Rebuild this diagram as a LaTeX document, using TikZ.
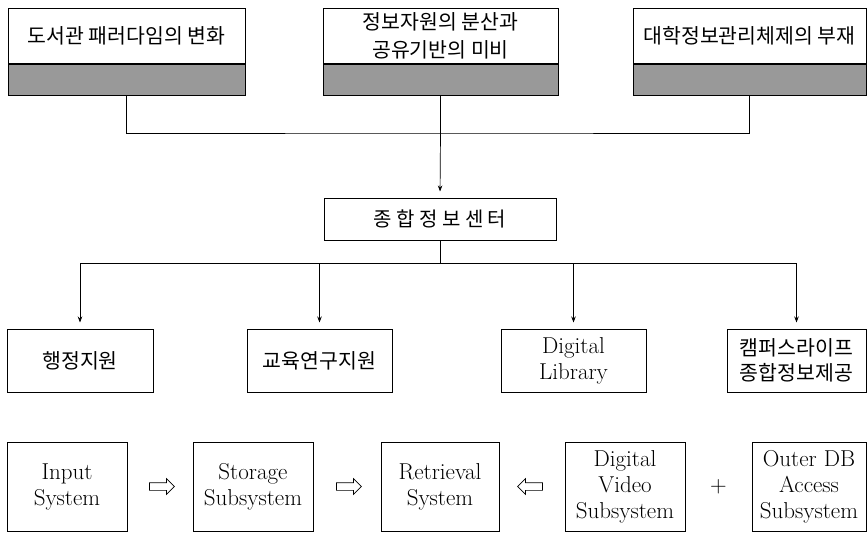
\documentclass[tikz,border=0pt]{standalone}
\usepackage{fontspec}
\newfontfamily\kr{Noto Sans CJK KR}
\usetikzlibrary{shapes.arrows,arrows.meta,calc}

\begin{document}
\begin{tikzpicture}[x=1pt,y=-1pt,
  box/.style={draw,line width=1pt,inner sep=1pt,align=center},
  band/.style={draw,line width=1pt,fill=black!40,minimum height=31pt,anchor=north},
  conn/.style={line width=1pt},
  dn/.style={-{Stealth[length=6pt,width=4.5pt]},line width=0.7pt,shorten >=6pt},
  harrow/.style={single arrow,draw,line width=0.7pt,minimum height=25pt,single arrow head extend=4pt,inner sep=3.5pt},
  kor/.style={font=\kr\fontsize{20.5}{28}\selectfont},
  eng/.style={font=\fontsize{23}{26}\selectfont}]
\useasboundingbox (0,0) rectangle (868,533);
% top row
\node[box,kor,minimum width=237pt,minimum height=55pt] (t1) at (126.5,35.5) {도서관 패러다임의 변화};
\node[box,kor,minimum width=235pt,minimum height=55pt] (t2) at (440.5,35.5) {정보자원의 분산과\\공유기반의 미비};
\node[box,kor,minimum width=233pt,minimum height=55pt] (t3) at (749.5,35.5) {대학정보관리체제의 부재};
\node[band,minimum width=237pt] (b1) at (t1.south) {};
\node[band,minimum width=235pt] (b2) at (t2.south) {};
\node[band,minimum width=233pt] (b3) at (t3.south) {};
% center
\node[box,font=\kr\fontsize{20}{22}\selectfont,minimum width=232pt,minimum height=42pt] (c) at (440,219) {종 합 정 보 센 터};
\coordinate (j) at (b2.south |- 0,133);
\draw[conn] (b1.south) |- (j) -| (b3.south);
\draw[conn] (b2.south) -- (j);
\draw[dn] (j) -- (c.north);
% second row
\node[box,kor,minimum width=146pt,minimum height=63pt] (r1) at (80,360.5) {행정지원};
\node[box,kor,minimum width=145pt,minimum height=63pt] (r2) at (319.5,360.5) {교육연구지원};
\node[box,eng,minimum width=145pt,minimum height=63pt] (r3) at (573.5,360.5) {Digital\\Library};
\node[box,font=\kr\fontsize{20.5}{25}\selectfont,minimum width=139pt,minimum height=63pt] (r4) at (796.5,360.5) {캠퍼스라이프\\종합정보제공};
\coordinate (k) at (c.south |- 0,263);
\draw[conn] (c.south) -- (k);
\draw[conn] (r1.north |- k) -- (r4.north |- k);
\foreach \n in {r1,r2,r3,r4}
  \draw[dn] (\n.north |- k) -- (\n.north);
% bottom row
\node[box,eng,minimum width=120pt,minimum height=89pt] (s1) at (67,486.5) {Input\\System};
\node[box,eng,minimum width=120pt,minimum height=89pt] (s2) at (253,486.5) {Storage\\Subsystem};
\node[box,eng,minimum width=118pt,minimum height=89pt] (s3) at (440,486.5) {Retrieval\\System};
\node[box,eng,minimum width=120pt,minimum height=89pt] (s4) at (625,486.5) {Digital\\Video\\Subsystem};
\node[box,eng,minimum width=114pt,minimum height=89pt] (s5) at (809,486.5) {Outer DB\\Access\\Subsystem};
\node[harrow] (h1) at ($(s1.east)!.5!(s2.west)$) {};
\node[harrow] (h2) at ($(s2.east)!.5!(s3.west)$) {};
\node[harrow,shape border rotate=180] (h3) at ($(s3.east)!.5!(s4.west)$) {};
\node[eng] (plus) at ($(s4.east)!.5!(s5.west)$) {+};
\end{tikzpicture}
\end{document}
